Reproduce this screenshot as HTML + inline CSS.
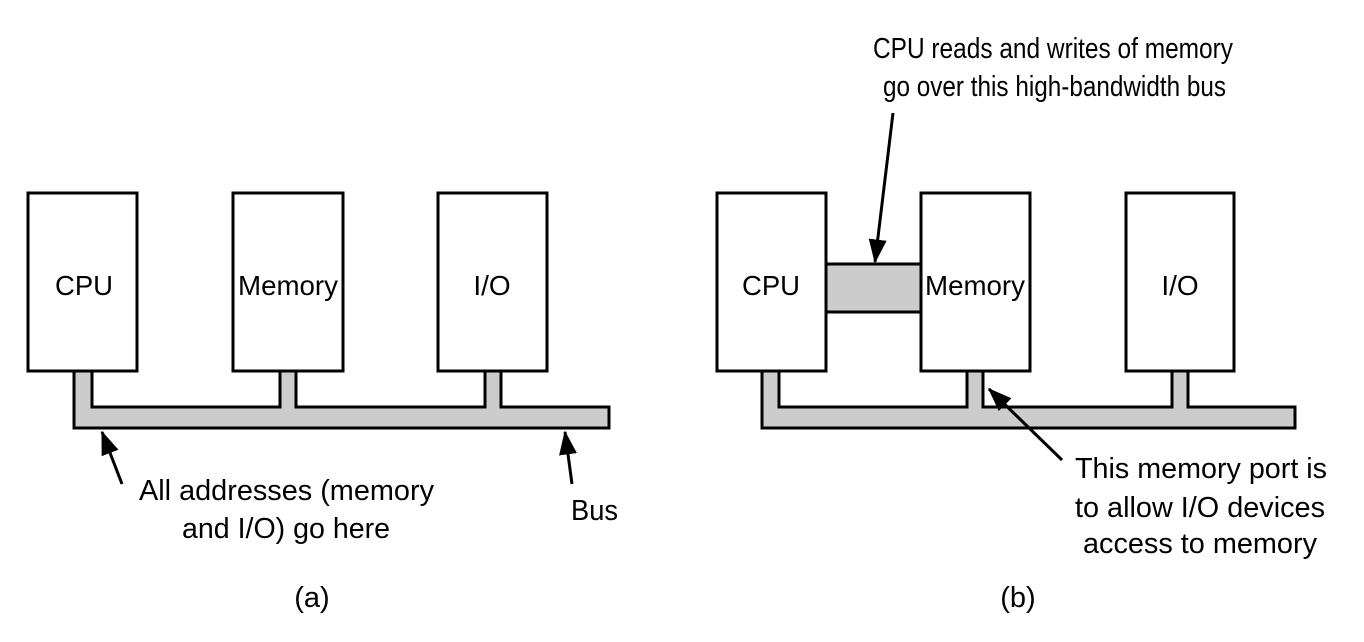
<!DOCTYPE html>
<html><head><meta charset="utf-8"><style>
html,body{margin:0;padding:0;background:#fff;}
svg{display:block;}
text{font-family:"Liberation Sans",Arial,sans-serif;font-size:29px;fill:#000;}
text.b{font-size:28px;}
</style></head><body>
<svg width="1364" height="642" viewBox="0 0 1364 642" xmlns="http://www.w3.org/2000/svg">
<defs>
<marker id="ah" markerWidth="8" markerHeight="6" refX="7.5" refY="3" orient="auto" markerUnits="strokeWidth">
<path d="M0,0 L8,3 L0,6 Z" fill="#000"/>
</marker>
</defs>
<g stroke="#000" stroke-width="3" stroke-linejoin="miter">
<polygon fill="#cccccc" points="74,371 74,428 609,428 609,407 501,407 501,371 485,371 485,407 296,407 296,371 280,371 280,407 92,407 92,371"/>
<rect x="28" y="193" width="109" height="178" fill="#fff"/>
<rect x="233" y="193" width="110" height="178" fill="#fff"/>
<rect x="438" y="193" width="109" height="178" fill="#fff"/>
<polygon fill="#cccccc" points="762,371 762,428 1295,428 1295,407 1188,407 1188,371 1172,371 1172,407 983,407 983,371 967,371 967,407 779,407 779,371"/>
<rect x="826" y="264" width="95" height="48" fill="#cccccc"/>
<rect x="717" y="193" width="109" height="178" fill="#fff"/>
<rect x="921" y="193" width="109" height="178" fill="#fff"/>
<rect x="1126" y="193" width="108" height="178" fill="#fff"/>
</g>
<g stroke="#000" stroke-width="3" fill="none">
<line x1="122" y1="484" x2="102" y2="432" marker-end="url(#ah)"/>
<line x1="572" y1="484" x2="565" y2="432" marker-end="url(#ah)"/>
<line x1="893" y1="113" x2="875" y2="262" marker-end="url(#ah)"/>
<line x1="1062" y1="460" x2="989" y2="389" marker-end="url(#ah)"/>
</g>
<text class="b" x="84" y="295" text-anchor="middle" textLength="58" lengthAdjust="spacingAndGlyphs">CPU</text>
<text class="b" x="288" y="295" text-anchor="middle" textLength="100" lengthAdjust="spacingAndGlyphs">Memory</text>
<text class="b" x="492" y="295" text-anchor="middle">I/O</text>
<text class="b" x="771" y="295" text-anchor="middle" textLength="58" lengthAdjust="spacingAndGlyphs">CPU</text>
<text class="b" x="975" y="295" text-anchor="middle" textLength="100" lengthAdjust="spacingAndGlyphs">Memory</text>
<text class="b" x="1180" y="295" text-anchor="middle">I/O</text>
<text x="139" y="500" textLength="295" lengthAdjust="spacingAndGlyphs">All addresses (memory</text>
<text x="182" y="538" textLength="208" lengthAdjust="spacingAndGlyphs">and I/O) go here</text>
<text x="571" y="520" textLength="47" lengthAdjust="spacingAndGlyphs">Bus</text>
<text x="312" y="607" text-anchor="middle">(a)</text>
<text x="1018" y="607" text-anchor="middle">(b)</text>
<text x="873" y="58" textLength="360" lengthAdjust="spacingAndGlyphs">CPU reads and writes of memory</text>
<text x="883" y="96" textLength="343" lengthAdjust="spacingAndGlyphs">go over this high-bandwidth bus</text>
<text x="1075" y="478" textLength="252" lengthAdjust="spacingAndGlyphs">This memory port is</text>
<text x="1075" y="517" textLength="250" lengthAdjust="spacingAndGlyphs">to allow I/O devices</text>
<text x="1083" y="553" textLength="234" lengthAdjust="spacingAndGlyphs">access to memory</text>
</svg>
</body></html>
